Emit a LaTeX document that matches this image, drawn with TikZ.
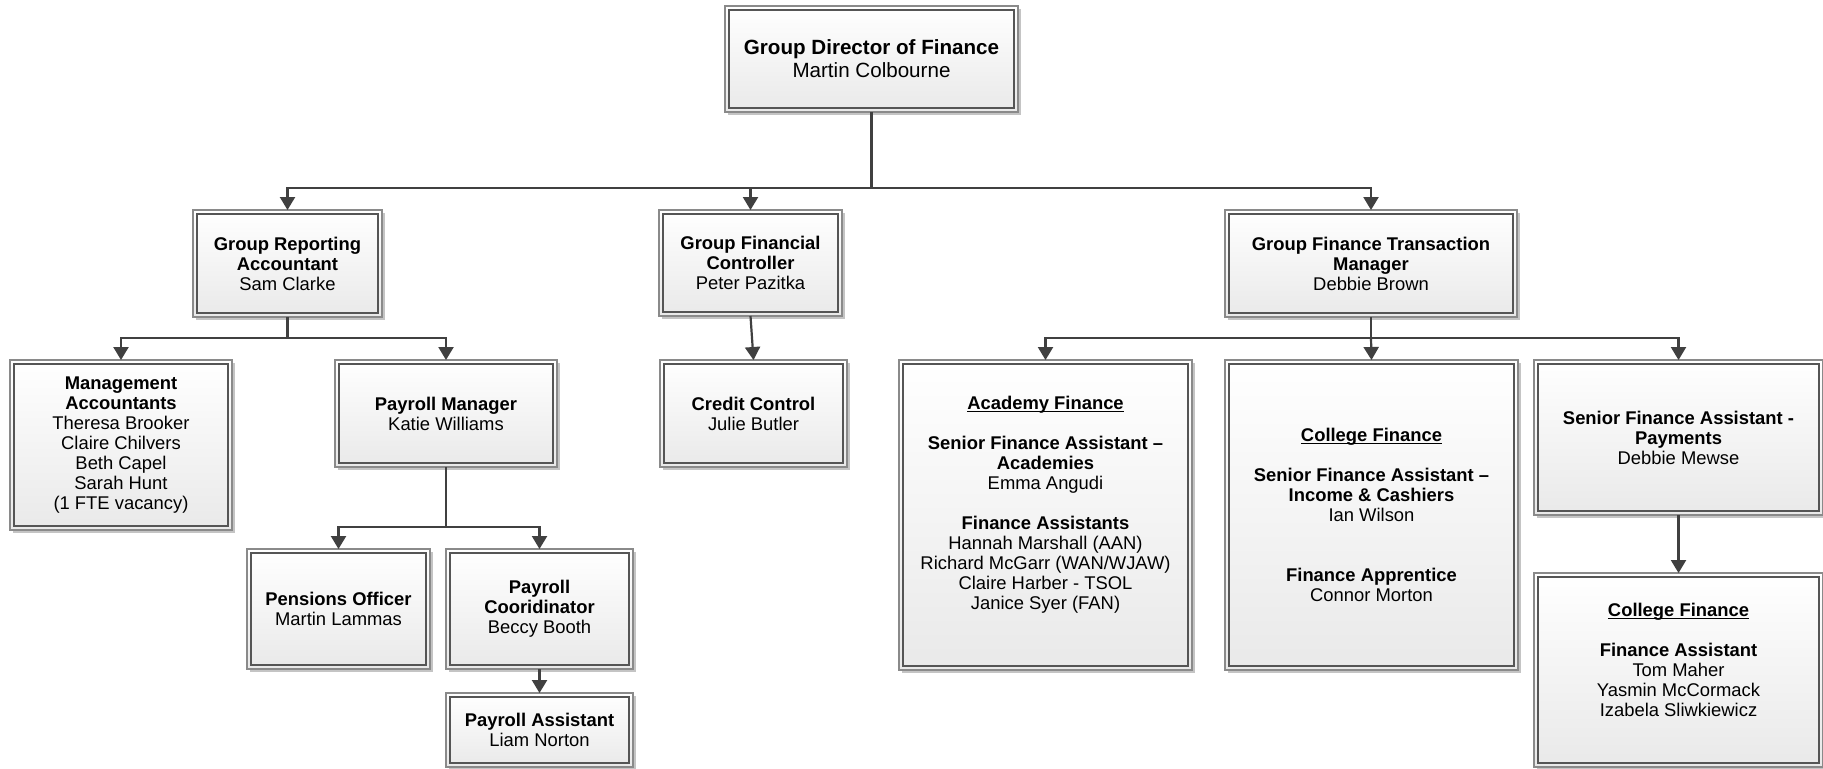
\documentclass[tikz,border=0pt]{standalone}
\usepackage{fontspec}
\setmainfont{Liberation Sans}
\usetikzlibrary{arrows.meta,shadows}
\definecolor{outerc}{HTML}{8A8A8A}
\definecolor{innerc}{HTML}{555555}
\definecolor{connc}{HTML}{404040}
\definecolor{shadc}{HTML}{C4C4C4}
\definecolor{fillb}{HTML}{E9E9E9}
\newcommand\myul[1]{\setbox0\hbox{#1}\rlap{\rule[-1.3pt]{\wd0}{0.5pt}}\box0}
\tikzset{
  obox/.style={draw=outerc, line width=0.6pt, inner sep=0pt, outer sep=0pt,
    shading=axis, top color=white, bottom color=fillb,
    drop shadow={shadow xshift=1.6pt, shadow yshift=-1.6pt, fill=shadc, opacity=1}},
  ibox/.style={draw=innerc, line width=0.8pt},
  otext/.style={align=center, inner sep=0pt, font=\fontsize{9.2}{10}\selectfont, text=black},
  bigtext/.style={otext, font=\fontsize{10.3}{11.5}\selectfont},
  conn/.style={draw=connc, line width=1.1pt},
  arr/.style={conn, -{Triangle[width=7.5pt,length=6.5pt]}},
}
% name, x1, y1, x2, y2, text, dy(px), text style
\newcommand\orgbox[8]{%
  \node[obox, minimum width={(#4-#2)*0.5pt}, minimum height={(#5-#3)*0.5pt}] (#1) at ({(#2+#4)/2},{(#3+#5)/2}) {};
  \draw[ibox] ([shift={(4,4)}]#1.north west) rectangle ([shift={(-4,-4)}]#1.south east);
  \node[#8] (#1-t) at ([shift={(0,#7)}]#1.center) {#6};
}
\begin{document}
\begin{tikzpicture}[x=0.5pt,y=-0.5pt]
\useasboundingbox[fill=white] (0,0) rectangle (1823,768);

\orgbox{dir}{725}{6}{1018}{112}{\textbf{Group Director of Finance}\\Martin Colbourne}{0}{bigtext}
\orgbox{gra}{193}{210}{382}{317}{\textbf{Group Reporting}\\\textbf{Accountant}\\Sam Clarke}{0}{otext}
\orgbox{gfc}{659}{210}{842}{316}{\textbf{Group Financial}\\\textbf{Controller}\\Peter Pazitka}{0}{otext}
\orgbox{gftm}{1225}{210}{1517}{317}{\textbf{Group Finance Transaction}\\\textbf{Manager}\\Debbie Brown}{0}{otext}

\orgbox{ma}{10}{360}{232}{530}{\textbf{Management}\\\textbf{Accountants}\\Theresa Brooker\\Claire Chilvers\\Beth Capel\\Sarah Hunt\\(1 FTE vacancy)}{0}{otext}
\orgbox{pm}{335}{360}{557}{467}{\textbf{Payroll Manager}\\Katie Williams}{0}{otext}
\orgbox{cc}{660}{360}{847}{467}{\textbf{Credit Control}\\Julie Butler}{0}{otext}
\orgbox{af}{899}{360}{1192}{670}{\myul{\textbf{Academy Finance}}\\[10pt]\textbf{Senior Finance Assistant –}\\\textbf{Academies}\\Emma Angudi\\[10pt]\textbf{Finance Assistants}\\Hannah Marshall (AAN)\\Richard McGarr (WAN/WJAW)\\Claire Harber - TSOL\\Janice Syer (FAN)}{-10}{otext}
\orgbox{cfa}{1225}{360}{1518}{670}{\myul{\textbf{College Finance}}\\[10pt]\textbf{Senior Finance Assistant –}\\\textbf{Income \& Cashiers}\\Ian Wilson\\[20pt]\textbf{Finance Apprentice}\\Connor Morton}{0}{otext}
\orgbox{pay}{1534}{360}{1823}{515}{\textbf{Senior Finance Assistant -}\\\textbf{Payments}\\Debbie Mewse}{0}{otext}
\orgbox{cfb}{1534}{573}{1823}{767}{\myul{\textbf{College Finance}}\\[10pt]\textbf{Finance Assistant}\\Tom Maher\\Yasmin McCormack\\Izabela Sliwkiewicz}{-10}{otext}

\orgbox{po}{247}{549}{430}{669}{\textbf{Pensions Officer}\\Martin Lammas}{0}{otext}
\orgbox{pc}{446}{549}{633}{669}{\textbf{Payroll}\\\textbf{Cooridinator}\\Beccy Booth}{0}{otext}
\orgbox{pa}{446}{693}{633}{767}{\textbf{Payroll Assistant}\\Liam Norton}{0}{otext}

% connectors
\coordinate (b1) at (871.5,188);
\draw[conn] (dir.south) -- (b1);
\draw[arr] (b1) -| (gra.north);
\draw[arr] (b1) -| (gfc.north);
\draw[arr] (b1) -| (gftm.north);

\coordinate (b2) at (287.5,338);
\draw[conn] (gra.south) -- (b2);
\draw[arr] (b2) -| (ma.north);
\draw[arr] (b2) -| (pm.north);

\draw[arr] (gfc.south) -- (cc.north);

\coordinate (b3) at (1371,338);
\draw[conn] (gftm.south) -- (b3);
\draw[arr] (b3) -| (af.north);
\draw[arr] (b3) -- (cfa.north);
\draw[arr] (b3) -| (pay.north);

\coordinate (b4) at (446,527);
\draw[conn] (pm.south) -- (b4);
\draw[arr] (b4) -| (po.north);
\draw[arr] (b4) -| (pc.north);

\draw[arr] (pc.south) -- (pa.north);
\draw[arr] (pay.south) -- (cfb.north);
\end{tikzpicture}
\end{document}
